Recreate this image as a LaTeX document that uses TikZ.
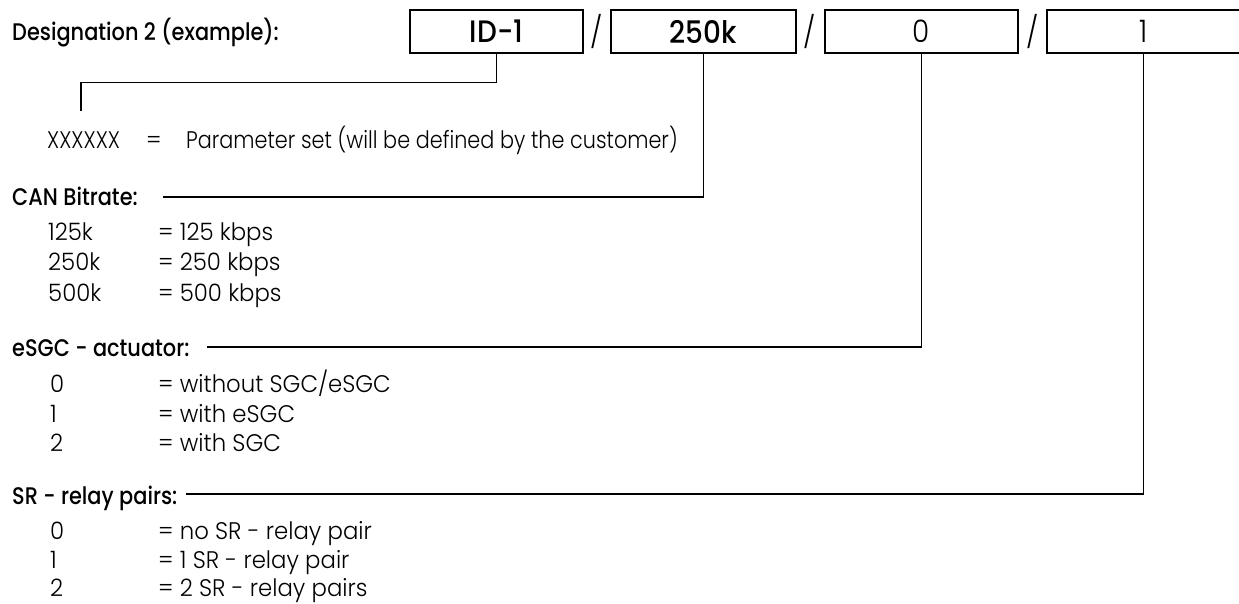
\documentclass[tikz,border=0pt]{standalone}
\usepackage{fontspec}
\setmainfont{Poppins Light}[FakeStretch=0.95]
\newfontfamily\paramfont{Poppins Light}[FakeStretch=0.865]
\newfontfamily\hdfont{Poppins Medium}[FakeStretch=0.87]
\newfontfamily\boxmed{Poppins Medium}[FakeStretch=0.9]
\newfontfamily\boxlight{Poppins Light}[FakeStretch=0.9]
\begin{document}
\begin{tikzpicture}[x=1pt,y=-1pt,
  txt/.style={inner sep=0pt, anchor=base west, font=\fontsize{24}{24}\selectfont},
  ptxt/.style={inner sep=0pt, anchor=base west, font=\fontsize{24}{24}\paramfont},
  hd/.style={inner sep=0pt, anchor=base west, font=\fontsize{24}{24}\hdfont},
  idbox/.style={draw, line width=1.3pt, inner sep=0pt, minimum height=43pt, font=\fontsize{31}{31}\boxlight},
  slash/.style={inner sep=0pt, font=\fontsize{31}{31}\boxlight},
  conn/.style={line width=1.3pt}]
\useasboundingbox (0,0) rectangle (1239,603);
% title
\node[hd] (title) at (12,40) {Designation 2 (example):};
% boxes
\node[idbox, minimum width=173pt, font=\fontsize{31}{31}\boxmed] (b1) at (496.5,31.5) {ID-1};
\node[slash] (s1) at (597,31.5) {/};
\node[idbox, minimum width=185pt, font=\fontsize{31}{31}\boxmed] (b2) at (703.5,31.5) {250k};
\node[slash] (s2) at (810,31.5) {/};
\node[idbox, minimum width=193pt] (b3) at (921.5,31.5) {0};
\node[slash] (s3) at (1033,31.5) {/};
\node[idbox, minimum width=193pt] (b4) at (1143.5,31.5) {1};
% parameter set
\node[ptxt] (px) at (47,148) {XXXXXX};
\node[txt] (peq) at (146,148) {=};
\node[ptxt] (pt) at (186,148) {Parameter set (will be defined by the customer)};
% CAN bitrate
\node[hd] (canh) at (12,205) {CAN Bitrate:};
\node[txt] (c1a) at (48,240) {125k};
\node[txt] (c1b) at (158,240) {= 125 kbps};
\node[txt] (c2a) at (48,270.5) {250k};
\node[txt] (c2b) at (158,270.5) {= 250 kbps};
\node[txt] (c3a) at (48,301) {500k};
\node[txt] (c3b) at (158,301) {= 500 kbps};
% eSGC
\node[hd] (esh) at (12,356) {eSGC - actuator:};
\node[txt] (e1a) at (50,392) {0};
\node[txt] (e1b) at (158,392) {= without SGC/eSGC};
\node[txt] (e2a) at (50,422) {1};
\node[txt] (e2b) at (158,422) {= with eSGC};
\node[txt] (e3a) at (50,451.5) {2};
\node[txt] (e3b) at (158,451.5) {= with SGC};
% SR
\node[hd] (srh) at (12,504) {SR - relay pairs:};
\node[txt] (r1a) at (50,539) {0};
\node[txt] (r1b) at (158,539) {= no SR - relay pair};
\node[txt] (r2a) at (50,568) {1};
\node[txt] (r2b) at (158,568) {= 1 SR - relay pair};
\node[txt] (r3a) at (50,596.5) {2};
\node[txt] (r3b) at (158,596.5) {= 2 SR - relay pairs};
% connectors
\coordinate (k1) at (81,111);
\coordinate (k2) at (163,197);
\coordinate (k3) at (207,347);
\coordinate (k4) at (186,494);
\draw[conn] (b1.south) -- ++(0,29) -| (k1);
\draw[conn] (b2.south) |- (k2);
\draw[conn] (b3.south) |- (k3);
\draw[conn] (b4.south) |- (k4);
\end{tikzpicture}
\end{document}
